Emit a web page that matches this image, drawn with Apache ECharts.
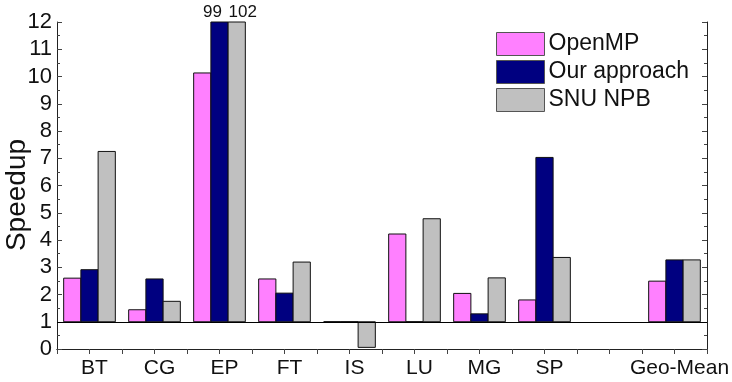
<!DOCTYPE html>
<html>
<head>
<meta charset="utf-8">
<script src="https://cdn.jsdelivr.net/npm/echarts@6/dist/echarts.min.js"></script>
<style>
  html, body { margin: 0; padding: 0; background: #fff; }
  #chart { width: 732px; height: 382px; }
</style>
</head>
<body>
<div id="chart"></div>
<script>
// Benchmarks (blank slot separates the individual kernels from the mean)
const categories = ['BT', 'CG', 'EP', 'FT', 'IS', 'LU', 'MG', 'SP', '', 'Geo-Mean'];
const seriesNames = ['OpenMP', 'Our approach', 'SNU NPB'];
// Speedup per benchmark (null = no bar in that slot)
const openmp      = [2.60, 1.44, 10.13, 2.57, 1.00, 4.22, 2.04, 1.80, null, 2.49];
const ourApproach = [2.91, 2.57, 99,    2.05, 1.00, 1.00, 1.29, 7.03, null, 3.27];
const snuNpb      = [7.25, 1.75, 102,   3.19, 0.06, 4.78, 2.61, 3.36, null, 3.27];
const yTicks = { min: 0, max: 12, interval: 1 };
const yTitle = 'Speedup';
const baseline = 1;

const colors = ['#FF80FF', '#000080', '#C0C0C0'];
const FONT = 'Liberation Sans, Arial, sans-serif';

const chart = echarts.init(document.getElementById('chart'), null, { renderer: 'canvas' });

// Bars grow up or down from the speedup=1 baseline; values past the
// axis top are clipped and their real value is printed above the frame.
function makeRenderItem(k) {
  return function (params, api) {
    const x = api.value(0);
    const v = api.value(1);
    const slot = api.size([1, 0])[0];
    const barW = slot * 0.265;
    const top = api.coord([x, v]);
    const base = api.coord([x, baseline]);
    const left = top[0] - 1.5 * barW + k * barW;
    const cs = params.coordSys;
    const rect = echarts.graphic.clipRectByRect(
      { x: left, y: Math.min(top[1], base[1]), width: barW, height: Math.abs(base[1] - top[1]) },
      { x: cs.x, y: cs.y, width: cs.width, height: cs.height }
    );
    const children = [];
    if (rect) {
      children.push({
        type: 'rect',
        shape: rect,
        style: { fill: colors[k], stroke: '#111', lineWidth: 1 }
      });
    }
    if (v > yTicks.max) {
      const shift = k === 1 ? -7 : (k === 2 ? 6 : 0);
      children.push({
        type: 'text',
        style: {
          text: String(v),
          x: left + barW / 2 + shift,
          y: cs.y - 1,
          align: 'center',
          verticalAlign: 'bottom',
          fill: '#111',
          font: '17px ' + FONT
        }
      });
    }
    return { type: 'group', children: children };
  };
}

const allValues = [openmp, ourApproach, snuNpb];
const series = allValues.map(function (vals, k) {
  const data = [];
  vals.forEach(function (v, i) { if (v !== null) data.push([i, v]); });
  const s = {
    name: seriesNames[k],
    type: 'custom',
    xAxisIndex: 0,
    yAxisIndex: 0,
    itemStyle: { color: colors[k], borderColor: '#555', borderWidth: 1 },
    renderItem: makeRenderItem(k),
    encode: { x: 0, y: 1 },
    clip: false,
    data: data,
    z: 3
  };
  if (k === 0) {
    s.markLine = {
      silent: true,
      symbol: ['none', 'none'],
      label: { show: false },
      lineStyle: { color: '#000', width: 1, type: 'solid' },
      data: [{ yAxis: baseline }],
      z: 5
    };
  }
  return s;
});

const yCommon = {
  type: 'value',
  min: yTicks.min,
  max: yTicks.max,
  interval: yTicks.interval,
  axisLine: { show: true, lineStyle: { color: '#222', width: 1 } },
  axisTick: { show: true, inside: true, length: 5, lineStyle: { color: '#444' } },
  minorTick: { show: true, splitNumber: 2, length: 3, lineStyle: { color: '#444' } },
  splitLine: { show: false }
};

chart.setOption({
  animation: false,
  backgroundColor: '#fff',
  grid: { left: 57, right: 25, top: 22, bottom: 33, containLabel: false, outerBoundsMode: 'none' },
  legend: {
    orient: 'vertical',
    left: 496,
    top: 32,
    padding: 0,
    itemWidth: 48,
    itemHeight: 23,
    itemGap: 4,
    icon: 'rect',
    itemStyle: { borderColor: '#555', borderWidth: 1 },
    textStyle: { fontFamily: FONT, fontSize: 23, color: '#111', padding: [0, 0, 0, -1] },
    data: seriesNames
  },
  // rotated y-axis title
  graphic: [{
    type: 'text',
    x: 17,
    y: 195,
    rotation: Math.PI / 2,
    style: {
      text: yTitle,
      align: 'center',
      verticalAlign: 'middle',
      fill: '#111',
      font: '28px ' + FONT
    }
  }],
  xAxis: [
    {
      type: 'category',
      data: categories,
      position: 'bottom',
      boundaryGap: true,
      axisLine: { show: true, lineStyle: { color: '#222', width: 1 } },
      axisTick: { show: false },
      axisLabel: {
        interval: 0,
        margin: 9,
        fontFamily: FONT,
        fontSize: 21,
        color: '#111',
        padding: [0, 0, 0, 10]
      },
      splitLine: { show: false }
    },
    {
      // half-slot tick marks along the top frame
      type: 'value',
      position: 'top',
      min: 0,
      max: categories.length * 2,
      interval: 1,
      axisLine: { show: true, lineStyle: { color: '#222', width: 1 } },
      axisTick: { show: true, inside: true, length: 5, lineStyle: { color: '#444' } },
      axisLabel: { show: false },
      splitLine: { show: false }
    }
  ],
  yAxis: [
    Object.assign({}, yCommon, {
      position: 'left',
      axisLabel: { fontFamily: FONT, fontSize: 22, color: '#111', margin: 5 }
    }),
    Object.assign({}, yCommon, {
      position: 'right',
      axisLabel: { show: false }
    })
  ],
  series: series
});
</script>
</body>
</html>
